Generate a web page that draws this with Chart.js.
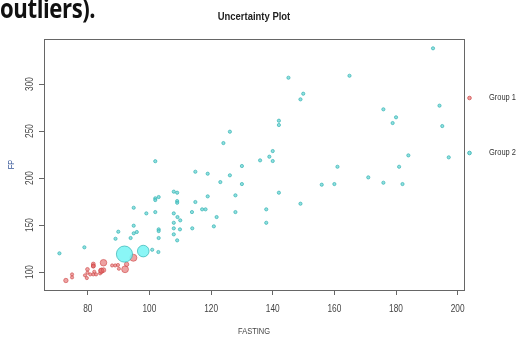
<!DOCTYPE html>
<html>
<head>
<meta charset="utf-8">
<title>Uncertainty Plot</title>
<script src="https://cdn.jsdelivr.net/npm/chart.js@4.4.1/dist/chart.umd.min.js"></script>
<style>
    html, body { margin: 0; padding: 0; background: #fff; }
    #wrap { position: relative; width: 517px; height: 340px; overflow: hidden; }
    #slideText {
        position: absolute; left: 0px; top: -4px;
        font: bold 27px 'Open Sans', 'Noto Sans', sans-serif;
        line-height: 24px; color: #111; letter-spacing: -0.5px;
        transform: scaleX(0.82); transform-origin: 0 0; white-space: nowrap;
    }
    #title {
        position: absolute; left: 204px; width: 100px; top: 10px; text-align: center;
        font: bold 11px 'Liberation Sans', sans-serif; color: #222;
        transform: scaleX(0.86); transform-origin: 50% 0;
    }
    canvas { position: absolute; left: 0; top: 0; }
</style>
</head>
<body>
<div id="wrap">
    <canvas id="chart" width="517" height="340"></canvas>
    <div id="slideText">outliers).</div>
    <div id="title">Uncertainty Plot</div>
</div>
<script>
// Group 1 (red)
const group1Fasting = [72.9, 74.9, 74.9, 79.1, 79.7, 79.9, 79.9, 80.8, 81.8, 81.8, 81.8, 82.1, 81.8, 82.7, 84.0, 84.4, 84.4, 85.1, 85.1, 87.9, 88.9, 89.8, 90.1, 92.6, 92.1, 94.8];
const group1Fp     = [91.0, 97.5, 94.3, 96.5, 93.6, 102.9, 99.3, 97.5, 108.5, 106.4, 106.4, 100.3, 97.5, 97.5, 98.6, 101.4, 101.4, 102.1, 109.9, 107.0, 107.0, 107.5, 103.5, 108.2, 102.9, 115.2];
const group1Unc    = [0.05, 0, 0, 0, 0, 0.02, 0, 0, 0.03, 0.03, 0.03, 0, 0, 0, 0, 0.08, 0.08, 0.06, 0.14, 0, 0, 0, 0, 0.05, 0.15, 0.16];

// Group 2 (cyan)
const group2Fasting = [70.8, 78.9, 89.9, 89.0, 94.9, 94.9, 95.9, 93.9, 94.9, 99.0, 101.9, 101.9, 101.9, 103.0, 101.9, 100.9, 102.9,
    103.0, 103.0, 103.0, 107.9, 109.0, 109.0, 109.0, 107.9, 109.1, 110.0, 107.9, 107.9, 107.9, 109.9, 109.0, 113.8, 113.9,
    114.9, 114.9, 117.1, 118.2, 118.9, 118.9, 121.8, 120.9, 123.0, 124.0, 126.1, 126.1, 127.9, 127.9, 130.0, 130.0, 135.9,
    137.9, 137.9, 138.9, 140.0, 140.0, 142.0, 142.0, 142.0, 145.1, 149.0, 149.9, 149.0, 155.9, 160.0, 161.0, 164.9, 171.0,
    175.9, 175.9, 178.9, 180.0, 181.0, 182.1, 184.0, 192.0, 194.1, 195.0, 197.1, 98.0, 91.9];
const group2Fp = [119.9, 126.3, 142.9, 135.4, 149.3, 141.2, 142.6, 136.2, 168.4, 162.4, 163.8, 178.4, 176.6, 179.8, 217.9, 123.7, 121.3,
    145.4, 143.6, 136.2, 185.5, 184.4, 175.5, 173.7, 162.4, 158.5, 155.0, 152.4, 146.5, 140.1, 145.4, 133.7, 163.8, 146.5,
    174.5, 206.7, 166.7, 166.7, 180.5, 204.6, 158.5, 148.6, 195.7, 237.2, 249.3, 202.9, 181.6, 163.8, 212.8, 193.6, 218.8,
    166.7, 152.4, 222.7, 228.7, 218.1, 261.0, 256.4, 184.4, 306.7, 283.7, 289.7, 172.7, 192.9, 193.6, 212.0, 308.8, 200.7,
    273.1, 195.0, 258.5, 264.6, 212.0, 193.6, 224.1, 338.0, 277.0, 255.3, 222.0, 122.3, 119.1];
const group2Unc = group2Fasting.map((v, i) => (i === group2Fasting.length - 1 ? 0.54 : i === group2Fasting.length - 2 ? 0.35 : 0));

const xTicks = [80, 100, 120, 140, 160, 180, 200];
const yTicks = [100, 150, 200, 250, 300];
const groupNames = ['Group 1', 'Group 2'];

const RED_FILL = 'rgba(228, 105, 105, 0.62)';
const RED_LINE = 'rgba(205, 70, 70, 0.75)';
const CYAN_FILL = 'rgba(95, 210, 210, 0.7)';
const CYAN_LINE = 'rgba(55, 180, 180, 0.9)';
const FONT = "'Liberation Sans', sans-serif";
const SQUEEZE = 0.83; // the original uses a narrow helvetica

function toPoints(xs, ys) {
    return xs.map((x, i) => ({ x: x, y: ys[i] }));
}

function radiusFrom(unc) {
    return (ctx) => 1.6 + unc[ctx.dataIndex] * 12;
}

// narrow text, optionally rotated
function narrowText(ctx, text, x, y, align, rotate) {
    ctx.save();
    ctx.translate(x, y);
    if (rotate) ctx.rotate(-Math.PI / 2);
    ctx.scale(SQUEEZE, 1);
    ctx.textAlign = align;
    ctx.textBaseline = 'middle';
    ctx.fillText(text, 0, 0);
    ctx.restore();
}

// box, labels and legend drawn R style
const rStyle = {
    id: 'rStyle',
    afterDraw(chart) {
        const ctx = chart.ctx;
        const a = chart.chartArea;
        ctx.save();
        ctx.strokeStyle = '#666';
        ctx.lineWidth = 1;
        ctx.strokeRect(a.left + 0.5, a.top + 0.5, a.right - a.left, a.bottom - a.top);

        ctx.fillStyle = '#444';
        ctx.font = '10px ' + FONT;
        const xs = chart.scales.x;
        xs.ticks.forEach(t => narrowText(ctx, String(t.value), xs.getPixelForValue(t.value), 309, 'center', false));
        const ys = chart.scales.y;
        ys.ticks.forEach(t => narrowText(ctx, String(t.value), 30, ys.getPixelForValue(t.value), 'center', true));

        // axis titles
        ctx.font = '9px ' + FONT;
        narrowText(ctx, 'FASTING', (a.left + a.right) / 2, 332, 'center', false);
        ctx.fillStyle = '#3a5a9a';
        narrowText(ctx, 'FP', 12, (a.top + a.bottom) / 2, 'center', true);

        // legend to the right
        const legendY = [98, 153];
        const fills = [RED_FILL, CYAN_FILL];
        const lines = [RED_LINE, CYAN_LINE];
        groupNames.forEach((name, i) => {
            ctx.beginPath();
            ctx.arc(469.5, legendY[i], 1.8, 0, Math.PI * 2);
            ctx.fillStyle = fills[i];
            ctx.fill();
            ctx.strokeStyle = lines[i];
            ctx.stroke();
            ctx.fillStyle = '#333';
            narrowText(ctx, name, 489, legendY[i], 'left', false);
        });
        ctx.restore();
    }
};

new Chart(document.getElementById('chart'), {
    type: 'scatter',
    data: {
        datasets: [
            {
                label: groupNames[1],
                data: toPoints(group2Fasting, group2Fp),
                backgroundColor: (c) => group2Unc[c.dataIndex] > 0.3 ? 'rgba(125, 245, 245, 0.9)' : CYAN_FILL,
                borderColor: CYAN_LINE,
                borderWidth: 0.8,
                pointRadius: radiusFrom(group2Unc)
            },
            {
                label: groupNames[0],
                data: toPoints(group1Fasting, group1Fp),
                backgroundColor: RED_FILL,
                borderColor: RED_LINE,
                borderWidth: 0.8,
                pointRadius: radiusFrom(group1Unc)
            }
        ]
    },
    options: {
        responsive: false,
        animation: false,
        layout: { padding: { top: 39, right: 53, left: 0, bottom: 0 } },
        plugins: {
            legend: { display: false },
            tooltip: { enabled: false }
        },
        scales: {
            x: {
                type: 'linear',
                min: 65.8,
                max: 202.05,
                afterFit: (s) => { s.height = 50; },
                afterBuildTicks: (s) => { s.ticks = xTicks.map(v => ({ value: v })); },
                border: { display: false },
                grid: { drawOnChartArea: false, drawTicks: true, tickLength: 5, color: '#666' },
                ticks: { display: false }
            },
            y: {
                type: 'linear',
                min: 80.9,
                max: 347.9,
                afterFit: (s) => { s.width = 44; },
                afterBuildTicks: (s) => { s.ticks = yTicks.map(v => ({ value: v })); },
                border: { display: false },
                grid: { drawOnChartArea: false, drawTicks: true, tickLength: 5, color: '#666' },
                ticks: { display: false }
            }
        }
    },
    plugins: [rStyle]
});
</script>
</body>
</html>
